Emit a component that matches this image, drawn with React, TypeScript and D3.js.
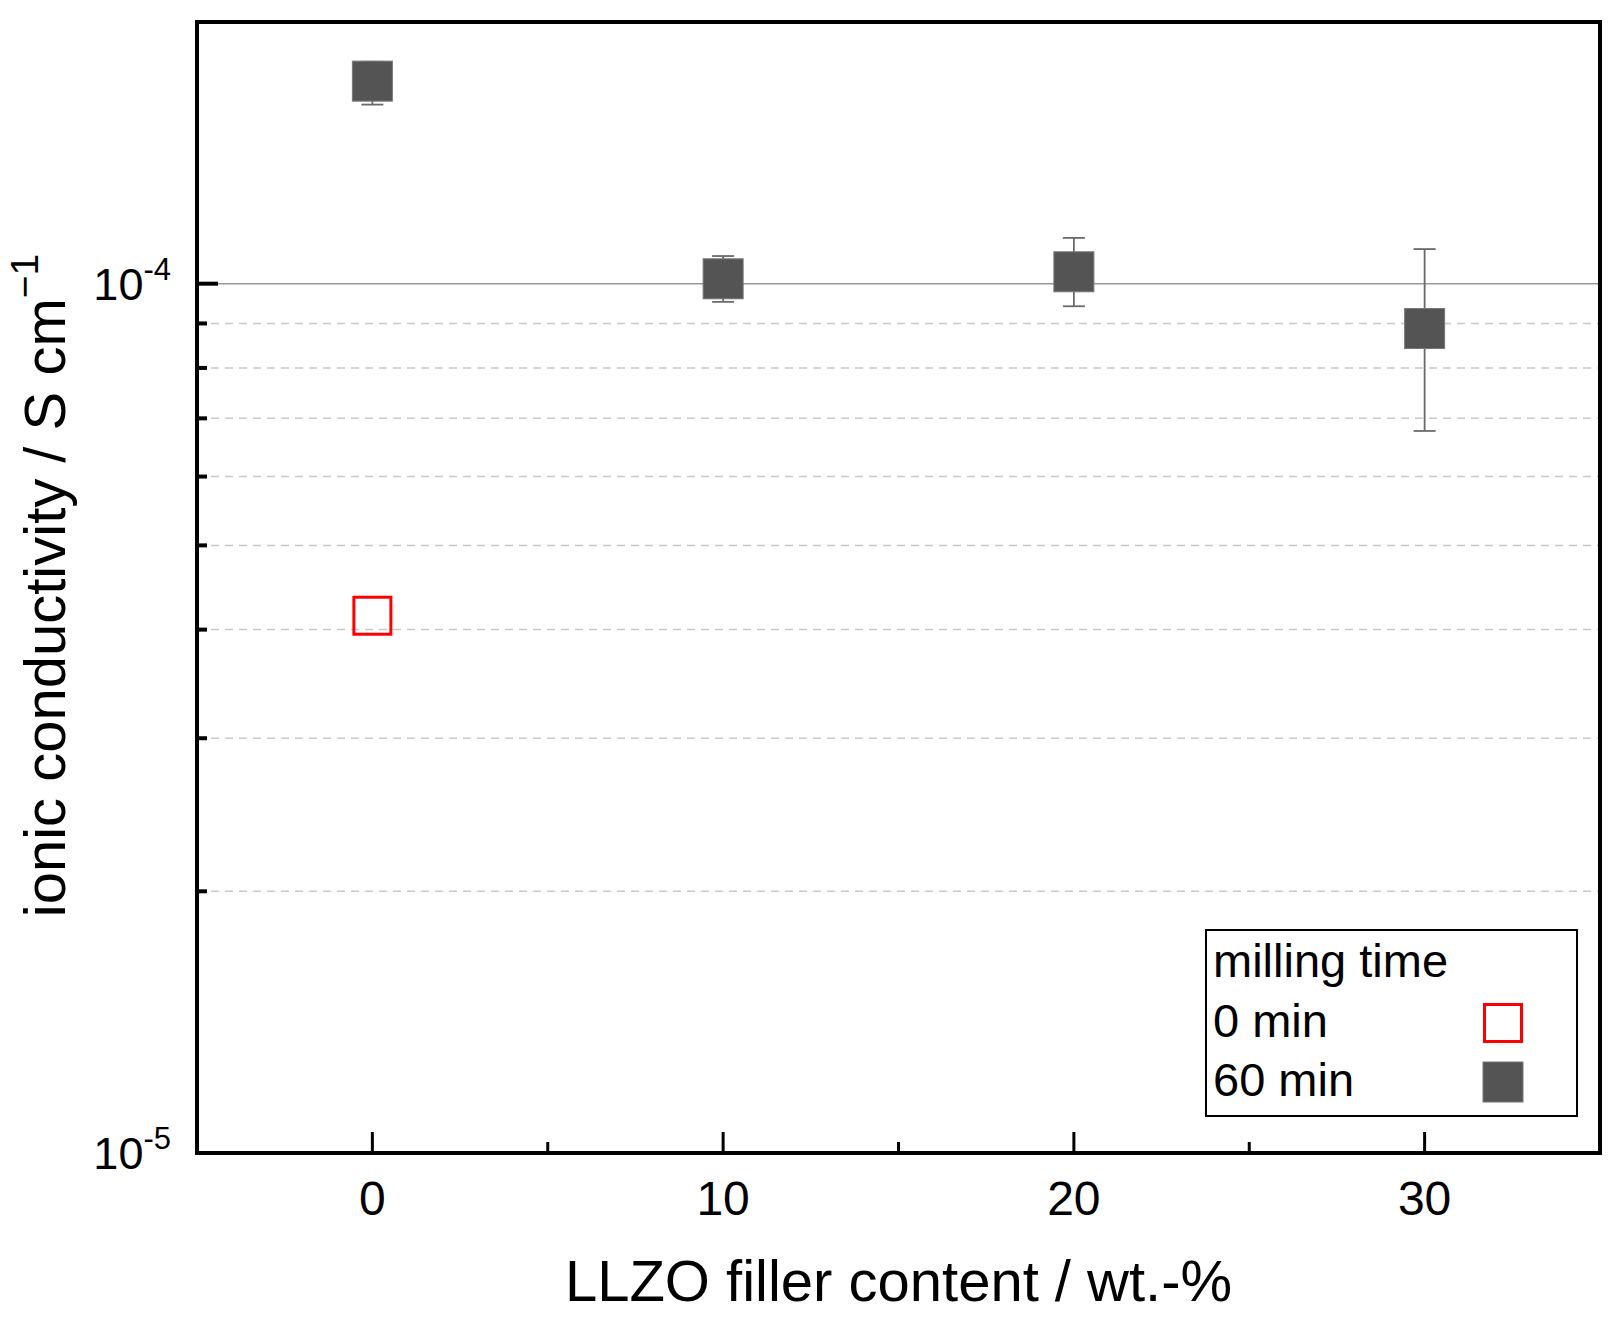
import React from "react";
import * as d3 from "d3";

// filler content (wt.-%) and ionic conductivity (S/cm)
const fillerContent60 = [0, 10, 20, 30];
const conductivity60 = [1.71e-4, 1.013e-4, 1.032e-4, 0.888e-4];
const errUpper60 = [1.8e-4, 1.076e-4, 1.129e-4, 1.096e-4];
const errLower60 = [1.607e-4, 0.953e-4, 0.942e-4, 0.677e-4];

const fillerContent0 = [0];
const conductivity0 = [4.15e-5];

const xMajorTicks = [0, 10, 20, 30];
const xMinorTicks = [5, 15, 25];
const yMajorTicks = [1e-5, 1e-4];
const yMajorLabels = ["-5", "-4"];
const yMinorTicks = [2e-5, 3e-5, 4e-5, 5e-5, 6e-5, 7e-5, 8e-5, 9e-5];

const legendTitle = "milling time";
const legendLabels = ["0 min", "60 min"];

const W = 1619;
const H = 1332;
const FONT = "'Liberation Sans', Arial, sans-serif";

const App: React.FC = () => {
  const margin = { top: 22, right: 19, bottom: 179, left: 197 };
  const x = d3.scaleLinear().domain([-5, 35]).range([margin.left, W - margin.right]);
  const y = d3.scaleLog().domain([1e-5, 2e-4]).range([H - margin.bottom, margin.top]);
  const x0 = margin.left;
  const x1 = W - margin.right;
  const yb = H - margin.bottom;
  const yt = margin.top;
  const ms = 40; // marker size

  return (
    <svg
      width={W}
      height={H}
      style={{ position: "absolute", left: 0, top: 0, background: "#fff" }}
      fontFamily={FONT}
    >
      {/* grid lines */}
      {yMinorTicks.map((v) => (
        <line
          key={"g" + v}
          x1={x0}
          x2={x1}
          y1={y(v)}
          y2={y(v)}
          stroke="#c8c8c8"
          strokeWidth={1.5}
          strokeDasharray="8,6"
        />
      ))}
      <line x1={x0} x2={x1} y1={y(1e-4)} y2={y(1e-4)} stroke="#999" strokeWidth={1.6} />

      {/* y ticks */}
      {yMinorTicks.map((v) => (
        <line key={"ym" + v} x1={x0} x2={x0 + 10} y1={y(v)} y2={y(v)} stroke="#000" strokeWidth={4} />
      ))}
      {yMajorTicks.map((v) => (
        <line key={"yM" + v} x1={x0} x2={x0 + 21} y1={y(v)} y2={y(v)} stroke="#000" strokeWidth={4} />
      ))}
      {yMajorTicks.map((v, i) => (
        <text key={"yl" + v} x={x0 - 26} y={y(v) + 16} textAnchor="end" fontSize={45} fill="#000">
          10
          <tspan fontSize={31} dy={-20}>
            {yMajorLabels[i]}
          </tspan>
        </text>
      ))}

      {/* x ticks */}
      {xMajorTicks.map((v) => (
        <line key={"xM" + v} x1={x(v)} x2={x(v)} y1={yb} y2={yb - 21} stroke="#000" strokeWidth={3} />
      ))}
      {xMinorTicks.map((v) => (
        <line key={"xm" + v} x1={x(v)} x2={x(v)} y1={yb} y2={yb - 11} stroke="#000" strokeWidth={3} />
      ))}
      {xMajorTicks.map((v) => (
        <text key={"xl" + v} x={x(v)} y={1215} textAnchor="middle" fontSize={48} fill="#000">
          {v}
        </text>
      ))}

      {/* axis titles */}
      <text x={(x0 + x1) / 2} y={1301} textAnchor="middle" fontSize={58} fill="#000">
        LLZO filler content / wt.-%
      </text>
      <text
        transform={`translate(65,${(yt + yb) / 2 - 2}) rotate(-90)`}
        textAnchor="middle"
        fontSize={58}
        fill="#000"
      >
        ionic conductivity / S cm
        <tspan fontSize={39} dy={-27}>
          −1
        </tspan>
      </text>

      {/* error bars */}
      {fillerContent60.map((v, i) => (
        <g key={"e" + v} stroke="#6a6a6a" strokeWidth={1.8}>
          <line x1={x(v)} x2={x(v)} y1={y(errUpper60[i])} y2={y(errLower60[i])} />
          <line x1={x(v) - 11} x2={x(v) + 11} y1={y(errUpper60[i])} y2={y(errUpper60[i])} />
          <line x1={x(v) - 11} x2={x(v) + 11} y1={y(errLower60[i])} y2={y(errLower60[i])} />
        </g>
      ))}

      {/* 60 min markers */}
      {fillerContent60.map((v, i) => (
        <rect
          key={"s" + v}
          x={x(v) - ms / 2}
          y={y(conductivity60[i]) - ms / 2}
          width={ms}
          height={ms}
          fill="#545454"
          stroke="#777"
          strokeWidth={1}
        />
      ))}

      {/* 0 min markers */}
      {fillerContent0.map((v, i) => (
        <rect
          key={"r" + v}
          x={x(v) - ms / 2 + 1.5}
          y={y(conductivity0[i]) - ms / 2 + 1.5}
          width={ms - 3}
          height={ms - 3}
          fill="none"
          stroke="#ff0000"
          strokeWidth={3}
        />
      ))}

      {/* frame */}
      <rect x={x0} y={yt} width={x1 - x0} height={yb - yt} fill="none" stroke="#000" strokeWidth={4} />

      {/* legend */}
      <g>
        <rect x={1206} y={930} width={371} height={186} fill="#fff" stroke="#000" strokeWidth={2} />
        <text x={1213} y={977} fontSize={47} fill="#000">
          {legendTitle}
        </text>
        {legendLabels.map((l, i) => (
          <text key={l} x={1213} y={1037 + i * 59} fontSize={47} fill="#000">
            {l}
          </text>
        ))}
        <rect x={1484.5} y={1004.5} width={37} height={37} fill="none" stroke="#ff0000" strokeWidth={3} />
        <rect x={1483} y={1062} width={40} height={40} fill="#545454" stroke="#777" strokeWidth={1} />
      </g>
    </svg>
  );
};

export default App;
